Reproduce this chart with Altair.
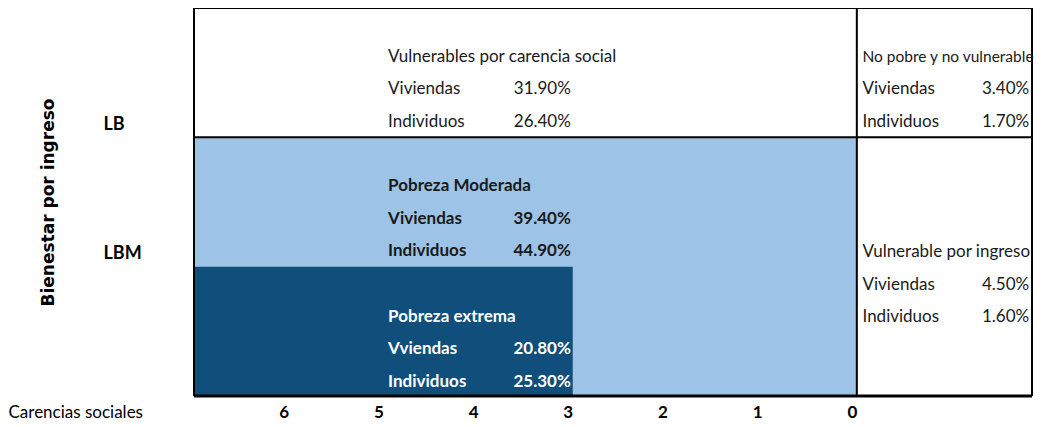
import altair as alt
import pandas as pd

# ---- data ----
groups = ["Vulnerables por carencia social", "Pobreza Moderada", "Pobreza extrema",
          "No pobre y no vulnerable", "Vulnerable por ingreso"]
row1_labels = ["Viviendas", "Viviendas", "Vviendas", "Viviendas", "Viviendas"]
row2_labels = ["Individuos", "Individuos", "Individuos", "Individuos", "Individuos"]
viviendas = ["31.90%", "39.40%", "20.80%", "3.40%", "4.50%"]
individuos = ["26.40%", "44.90%", "25.30%", "1.70%", "1.60%"]
carencias_ticks = [6, 5, 4, 3, 2, 1, 0]
ingreso_ticks = [1, 2]
ingreso_labels = ["LBM", "LB"]

# ---- layout (data-unit anchors) ----
anchor_x = [4.95, 4.95, 4.95, -0.06, -0.06]
value_x = [3.02, 3.02, 3.02, -1.82, -1.82]
anchor_y = [2.62, 1.62, 0.61, 2.62, 1.11]
step = 0.25
text_color = ["#1a1a1a", "#1a1a1a", "white", "#1a1a1a", "#1a1a1a"]
text_weight = ["normal", "bold", "bold", "normal", "normal"]
title_size = [17, 17, 17, 15.5, 17]

FONT = "Lato"
FS = 17
XMIN = -1.85

xs = alt.Scale(domain=[7, XMIN], nice=False, zero=False)
ys = alt.Scale(domain=[0, 3], nice=False, zero=False)

rects = pd.DataFrame({
    "x": [7, 7], "x2": [0, 3], "y": [0, 0], "y2": [2, 1],
    "fill": ["#9DC3E6", "#104F7B"],
})
rect_layer = alt.Chart(rects).mark_rect(strokeWidth=0).encode(
    x=alt.X("x:Q", scale=xs,
            axis=alt.Axis(values=carencias_ticks, title="Carencias sociales", format="d",
                          domain=False, ticks=False, grid=False,
                          labelFont=FONT, labelFontSize=17, labelFontWeight="bold",
                          labelColor="black", labelPadding=16, labelOffset=-5,
                          labelBaseline="middle",
                          titleFont=FONT, titleFontSize=17, titleFontWeight="normal",
                          titleColor="black", titleX=-186, titleY=16,
                          titleAlign="left", titleBaseline="middle", titleAnchor="start")),
    x2="x2:Q",
    y=alt.Y("y:Q", scale=ys,
            axis=alt.Axis(values=ingreso_ticks,
                          labelExpr="datum.value == 1 ? 'LBM' : 'LB'",
                          title="Bienestar por ingreso",
                          domain=False, ticks=False, grid=False,
                          labelFont=FONT, labelFontSize=18, labelFontWeight="bold",
                          labelColor="black", labelAlign="left", labelPadding=91,
                          labelBaseline="middle", labelOffset=-13,
                          titleFont="DejaVu Sans", titleFontSize=17, titleFontWeight="bold",
                          titleColor="black", titleX=-146, titleBaseline="middle")),
    y2="y2:Q",
    color=alt.Color("fill:N", scale=None),
)

# divider lines and outer frame
lines = pd.DataFrame({
    "x": [7, 0, XMIN, 7, 7], "x2": [XMIN, 0, XMIN, XMIN, 7],
    "y": [2, 0, 0, 3, 0], "y2": [2, 3, 3, 3, 3],
})
line_layer = alt.Chart(lines).mark_rule(color="black", strokeWidth=2).encode(
    x=alt.X("x:Q", scale=xs), x2="x2:Q",
    y=alt.Y("y:Q", scale=ys), y2="y2:Q",
)
bottom = pd.DataFrame({"x": [7], "x2": [XMIN], "y": [0]})
bottom_layer = alt.Chart(bottom).mark_rule(color="black", strokeWidth=3).encode(
    x=alt.X("x:Q", scale=xs), x2="x2:Q", y=alt.Y("y:Q", scale=ys),
)

rows = []
for i, g in enumerate(groups):
    rows.append({"x": anchor_x[i], "y": anchor_y[i], "t": g, "a": "left",
                 "c": text_color[i], "w": text_weight[i], "s": title_size[i]})
    rows.append({"x": anchor_x[i], "y": anchor_y[i] - step, "t": row1_labels[i], "a": "left",
                 "c": text_color[i], "w": text_weight[i], "s": FS})
    rows.append({"x": anchor_x[i], "y": anchor_y[i] - 2 * step, "t": row2_labels[i], "a": "left",
                 "c": text_color[i], "w": text_weight[i], "s": FS})
    rows.append({"x": value_x[i], "y": anchor_y[i] - step, "t": viviendas[i], "a": "right",
                 "c": text_color[i], "w": text_weight[i], "s": FS})
    rows.append({"x": value_x[i], "y": anchor_y[i] - 2 * step, "t": individuos[i], "a": "right",
                 "c": text_color[i], "w": text_weight[i], "s": FS})
texts = pd.DataFrame(rows)

def text_layer(align, weight):
    d = texts[(texts.a == align) & (texts.w == weight)]
    return alt.Chart(d).mark_text(
        align=align, baseline="middle", font=FONT, fontWeight=weight,
    ).encode(
        x=alt.X("x:Q", scale=xs), y=alt.Y("y:Q", scale=ys),
        text="t:N", color=alt.Color("c:N", scale=None),
        size=alt.Size("s:Q", scale=None),
    )

chart = alt.layer(
    rect_layer, line_layer, bottom_layer,
    text_layer("left", "normal"), text_layer("right", "normal"),
    text_layer("left", "bold"), text_layer("right", "bold"),
).properties(
    width=838, height=388,
    autosize=alt.AutoSizeParams(type="none"),
    padding={"left": 186, "top": 0, "right": 2, "bottom": 28},
    background="white",
).configure_view(stroke=None)

chart.save("out.html", embed_options={"renderer": "svg", "actions": False})
